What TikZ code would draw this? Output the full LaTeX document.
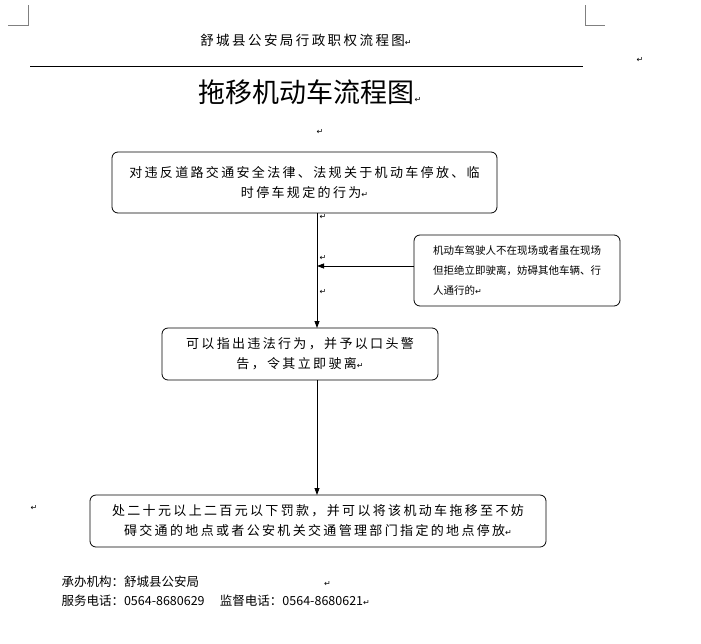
\documentclass[tikz,border=0pt]{standalone}
\usepackage{fontspec}
\setmainfont{Noto Sans CJK SC}
\newfontfamily\retfont{DejaVu Sans}
\newfontfamily\spaced{Noto Sans CJK SC}[LetterSpace=18]
\usetikzlibrary{arrows.meta}
\newcommand{\rt}{{\retfont\fontsize{8}{8}\selectfont ↵}}
\begin{document}
\begin{tikzpicture}[x=1pt,y=-1pt,
  box/.style={draw,rounded corners=6pt,line width=0.8pt,align=center,font=\spaced\fontsize{13}{20}\selectfont,inner sep=0pt},
  conn/.style={line width=0.8pt,-{Triangle[length=7pt,width=5pt]}}]
\useasboundingbox (0,0) rectangle (701,643);
% corner marks
\draw[gray,line width=0.5pt] (28,5) -- (28,25) -- (8,25);
\draw[gray,line width=0.5pt] (585,5) -- (585,25) -- (605,25);
\node[font=\spaced\fontsize{13.5}{13}\selectfont] (hdr) at (306,40) {舒城县公安局行政职权流程图\rt};
\draw[line width=0.8pt] (30,66) -- (583,66);
\node[font=\fontsize{27}{27}\selectfont] (ttl) at (310,92) {拖移机动车流程图\rt};
\node at (320,132) {\rt};
\node at (640,60) {\rt};
\node[box,minimum width=385pt,minimum height=61pt] (b1) at (304.5,182.5)
 {对违反道路交通安全法律、法规关于机动车停放、临\\时停车规定的行为\rt};
\node[box,minimum width=206pt,minimum height=71pt,align=left,font=\fontsize{10.5}{20}\selectfont] (b4) at (517,270.5)
 {机动车驾驶人不在现场或者虽在现场\\但拒绝立即驶离，妨碍其他车辆、行\\人通行的\rt};
\node[box,minimum width=276pt,minimum height=52pt] (b2) at (300,354)
 {可以指出违法行为，并予以口头警\\告，令其立即驶离\rt};
\node[box,minimum width=456pt,minimum height=52pt] (b3) at (318,521)
 {处二十元以上二百元以下罚款，并可以将该机动车拖移至不妨\\碍交通的地点或者公安机关交通管理部门指定的地点停放\rt};
\coordinate (j) at (317,266);
\draw[conn] (317,213) -- (317,328);
\draw[conn] (b4.west |- j) -- (j);
\draw[conn] (317,380) -- (317,495);
\node at (323,217) {\rt};
\node at (323,258) {\rt};
\node at (323,292) {\rt};
\node at (34,508) {\rt};
\node[anchor=west,font=\fontsize{12.5}{19}\selectfont,align=left] (ft) at (58,591)
 {承办机构：舒城县公安局\hspace{10em}\rt\\服务电话：0564-8680629\quad\ 监督电话：0564-8680621\rt};
\end{tikzpicture}
\end{document}
